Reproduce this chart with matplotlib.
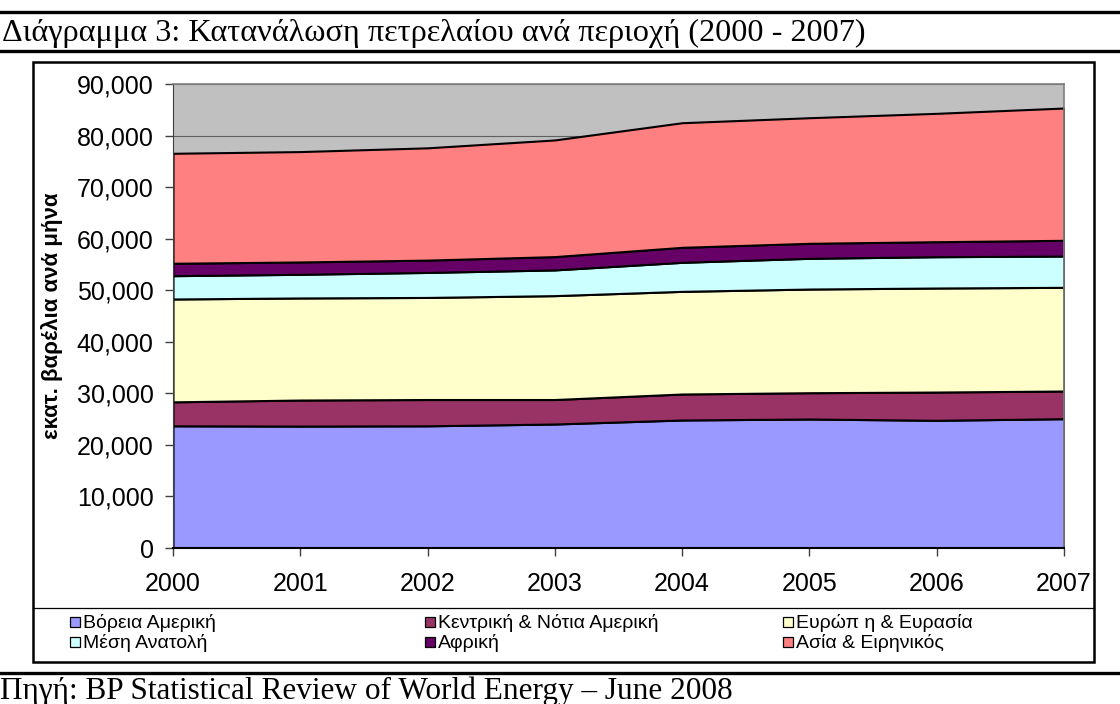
import matplotlib
matplotlib.use("Agg")
import matplotlib.pyplot as plt
from matplotlib.patches import Rectangle
from matplotlib.lines import Line2D
from matplotlib.ticker import FuncFormatter, MultipleLocator
import numpy as np

years = [2000, 2001, 2002, 2003, 2004, 2005, 2006, 2007]
series_names = ["Βόρεια Αμερική", "Κεντρική & Νότια Αμερική", "Ευρώπ η & Ευρασία",
                "Μέση Ανατολή", "Αφρική", "Ασία & Ειρηνικός"]
north_america = [23700, 23650, 23700, 24050, 24830, 25020, 24770, 25080]
central_south_america = [4650, 5050, 5100, 4750, 5040, 5100, 5480, 5370]
europe_eurasia = [19950, 19800, 19800, 20150, 19910, 20110, 20180, 20110]
middle_east = [4520, 4590, 4850, 4990, 5630, 5960, 6070, 6070]
africa = [2410, 2390, 2390, 2580, 2910, 2910, 2910, 3050]
asia_pacific = [21330, 21410, 21780, 22630, 24170, 24360, 24900, 25660]
colors = ["#9999FF", "#993366", "#FFFFCC", "#CCFFFF", "#660066", "#FF8080"]

title = "Διάγραμμα 3: Κατανάλωση πετρελαίου ανά περιοχή (2000 - 2007)"
source = "Πηγή: BP Statistical Review of World Energy – June 2008"
ylabel = "εκατ. βαρέλια ανά μήνα"

W, H = 1120, 704
fig = plt.figure(figsize=(W / 100, H / 100), dpi=100)
fig.patch.set_facecolor("white")

def fx(px):
    return px / W

def fy(py):
    return 1 - py / H

# Header / footer lines
for yy in (12, 51, 673):
    fig.add_artist(Line2D([0, 1], [fy(yy), fy(yy)], color="black", lw=2.4, transform=fig.transFigure))

fig.text(fx(2), fy(33), title, family="Liberation Serif", fontsize=23.2, va="center", ha="left")
fig.text(fx(0), fy(691), source, family="Liberation Serif", fontsize=22.5, va="center", ha="left")

# Chart border
fig.add_artist(Rectangle((fx(33), fy(662)), fx(1094) - fx(33), fy(62) - fy(662),
                         fill=False, edgecolor="black", lw=1.8, transform=fig.transFigure))
fig.add_artist(Line2D([fx(33), fx(1094)], [fy(608), fy(608)], color="black", lw=0.9,
                      transform=fig.transFigure))

ax = fig.add_axes([fx(173), fy(548), fx(1064) - fx(173), fy(84) - fy(548)])
ax.set_facecolor("#C0C0C0")
data = [north_america, central_south_america, europe_eurasia, middle_east, africa, asia_pacific]
ax.stackplot(years, *data, colors=colors, edgecolor="black", linewidth=1.5, zorder=3)

ax.set_xlim(years[0], years[-1])
ax.set_ylim(0, 90000)
ax.yaxis.set_major_locator(MultipleLocator(10000))
ax.set_xticks(years)
ax.yaxis.set_major_formatter(FuncFormatter(lambda v, p: f"{int(v):,}"))
ax.grid(axis="y", color="#606060", lw=0.8, zorder=1)
ax.set_axisbelow(True)
for s in ("top", "right"):
    ax.spines[s].set_color("#808080")
    ax.spines[s].set_linewidth(1.2)
ax.spines["left"].set_color("#404040")
ax.spines["bottom"].set_color("black")
ax.spines["bottom"].set_linewidth(1.5)
for sp in ax.spines.values():
    sp.set_zorder(5)
ax.tick_params(axis="both", labelsize=18, length=6, width=1, color="#404040", direction="out",
               labelfontfamily="Liberation Sans")
ax.tick_params(axis="y", pad=8)
ax.tick_params(axis="x", pad=11)
ax.set_ylabel(ylabel, family="Liberation Sans", fontsize=16, fontweight="bold", labelpad=10)

# Legend (manual)
col_x = [70, 425, 783]
row_y = [622, 642]
for i, (name, c) in enumerate(zip(series_names, colors)):
    r, col = divmod(i, 3)
    x0 = col_x[col]
    y0 = row_y[r]
    fig.add_artist(Rectangle((fx(x0), fy(y0 + 5)), fx(10), 10 / H, facecolor=c,
                             edgecolor="black", lw=0.9, transform=fig.transFigure))
    fig.text(fx(x0 + 13), fy(y0 + 1), name, family="Liberation Sans", fontsize=14,
             va="center", ha="left")

fig.savefig("out.png", dpi=100)
